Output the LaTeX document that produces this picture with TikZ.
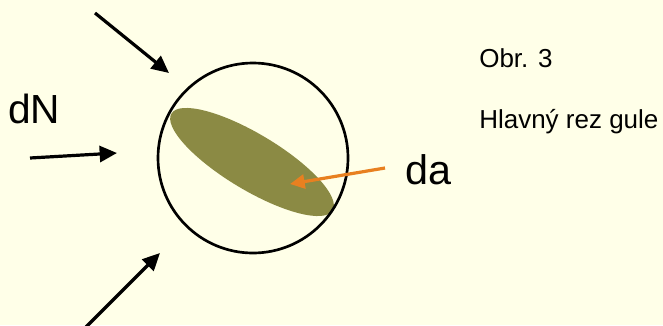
\documentclass[tikz,border=0pt]{standalone}
\usepackage{fontspec}
\setmainfont{Liberation Sans}
\usetikzlibrary{arrows.meta,shapes.geometric}
\definecolor{bgcream}{RGB}{255,255,232}
\definecolor{olivefill}{RGB}{139,138,68}
\definecolor{arroworange}{RGB}{232,128,32}
\begin{document}
\begin{tikzpicture}[x=0.75pt,y=-0.75pt,
  forcearrow/.style={line width=2.4pt,-{Triangle[length=13pt,width=12pt]},black},
  ptrarrow/.style={line width=2.4pt,-{Triangle[length=11pt,width=10.5pt]},arroworange},
  lbl/.style={inner sep=0pt,anchor=base west}]
\fill[bgcream] (0,0) rectangle (663,325);
\useasboundingbox (0,0) rectangle (663,325);
\node[draw=none,fill=olivefill,ellipse,minimum width=141pt,minimum height=42pt,inner sep=0pt,rotate=-31] (sec) at (252,162) {};
\node[draw=black,line width=2pt,circle,minimum size=142.5pt,inner sep=0pt] (ball) at (253,158) {};
\coordinate (a1s) at (95,13);  \coordinate (a1e) at (169,73);
\coordinate (a2s) at (30,158); \coordinate (a2e) at (117,153);
\coordinate (a3s) at (86,327); \coordinate (a3e) at (160,253);
\coordinate (os) at (385,168); \coordinate (oe) at (290,184);
\draw[forcearrow] (a1s) -- (a1e);
\draw[forcearrow] (a2s) -- (a2e);
\draw[forcearrow] (a3s) -- (a3e);
\draw[ptrarrow] (os) -- (oe);
\node[lbl,font=\fontsize{30.5pt}{30.5pt}\selectfont] (dN) at (8,123) {dN};
\node[lbl,font=\fontsize{31pt}{31pt}\selectfont] (da) at (405,184) {da};
\node[lbl,font=\fontsize{19.5pt}{19.5pt}\selectfont] (obr) at (479,67) {Obr. 3};
\node[lbl,font=\fontsize{19.5pt}{19.5pt}\selectfont] (cap) at (479,128) {Hlavný rez gule};
\end{tikzpicture}
\end{document}
